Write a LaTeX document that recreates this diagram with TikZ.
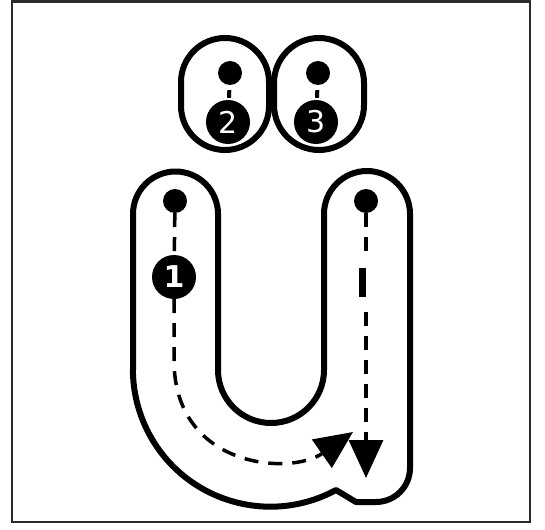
\documentclass[tikz,border=0pt]{standalone}
\usepackage{fontspec}
\setsansfont{DejaVu Sans}
\usetikzlibrary{arrows.meta}
\definecolor{inkBlack}{HTML}{000000}
\definecolor{frameGray}{HTML}{2B2B2B}

\begin{document}
\begin{tikzpicture}[x=1pt, y=-1pt,
    frameLine/.style={draw=frameGray, line width=2.5pt},
    outline/.style={draw=inkBlack, line width=6pt, line join=round},
    startDot/.style={circle, fill=inkBlack, inner sep=0pt, minimum size=24pt},
    numCircle/.style={circle, fill=inkBlack, text=white, inner sep=0pt, minimum size=44pt, font=\sffamily\fontsize{30}{30}\selectfont},
    stem/.style={draw=inkBlack, line width=4pt, shorten <=5pt, shorten >=2pt},
    guideDash/.style={draw=inkBlack, line width=3.5pt, dash pattern=on 14pt off 10pt},
    bigArrow/.style={-{Triangle[length=38pt, width=34pt]}},
]
\useasboundingbox (0,0) rectangle (545,529);
\draw[frameLine] (12,1.5) rectangle (530,522);
\draw[outline, rounded corners=44pt] (181,38) rectangle (269,150);
\draw[outline, rounded corners=45pt] (274,38) rectangle (364,150);
\node[startDot] (dotTwo) at (230,73) {};
\node[numCircle] (numTwo) at (228,122) {2};
\draw[stem] (dotTwo) -- (numTwo);
\node[startDot] (dotThree) at (318,73) {};
\node[numCircle] (numThree) at (316,122) {3};
\draw[stem] (dotThree) -- (numThree);
\draw[outline] (133,370) -- (133,214) arc[start angle=180, end angle=360, radius=42.5]
    -- (218,370) arc[start angle=180, end angle=0, radius=53]
    -- (324,214) arc[start angle=180, end angle=360, radius=43]
    -- (410,468) arc[start angle=0, end angle=90, radius=34]
    -- (356,502) -- (336,490) arc[start angle=61.5, end angle=180, radius=137.5] -- cycle;
\node[startDot] (dotOne) at (175,201) {};
\node[numCircle, font=\sffamily\bfseries\fontsize{30}{30}\selectfont] (numOne) at (174,277) {1};
\coordinate (bendOne) at (174,360);
\coordinate (tipOne) at (353,432);
\draw[guideDash] (dotOne) -- (numOne);
\draw[guideDash, bigArrow] (numOne) -- (bendOne) .. controls (174,468) and (290,476) .. (tipOne);
\node[startDot] (dotFour) at (366,201) {};
\coordinate (breakTop) at (366,252);
\coordinate (breakLow) at (366,312);
\coordinate (tipFour) at (366,478);
\draw[guideDash] (dotFour) -- (breakTop);
\draw[inkBlack, line width=7pt] (362,268) -- (362,297);
\draw[guideDash, bigArrow] (breakLow) -- (tipFour);
\end{tikzpicture}
\end{document}
